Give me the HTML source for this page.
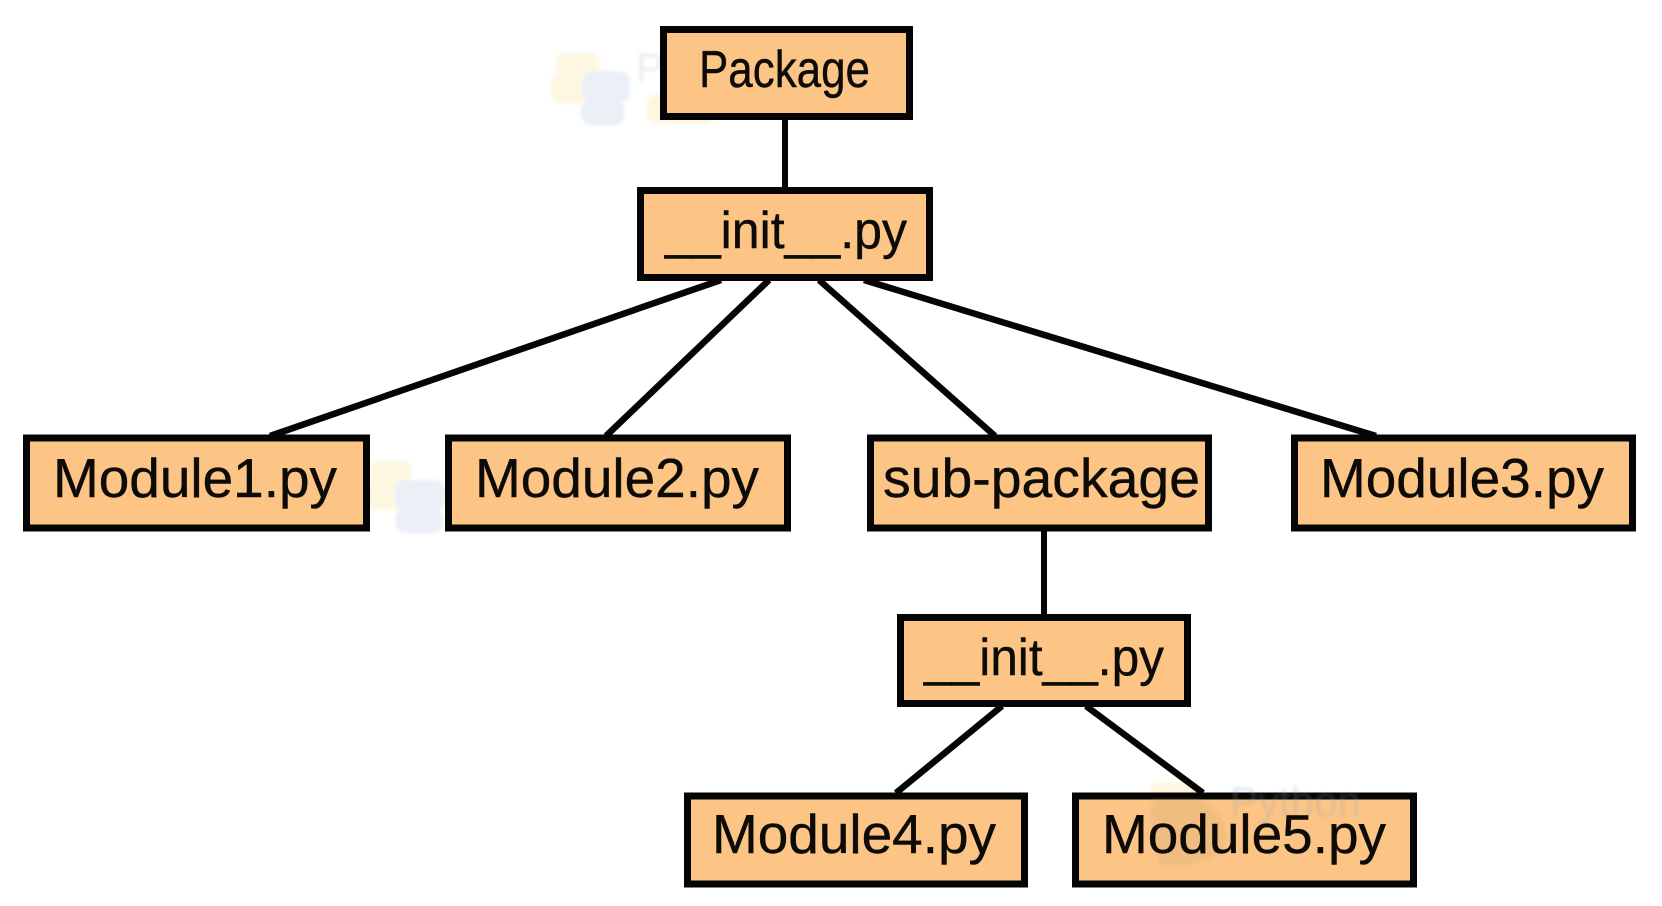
<!DOCTYPE html>
<html>
<head>
<meta charset="utf-8">
<style>
html,body{margin:0;padding:0;background:#fff;width:1662px;height:906px;overflow:hidden}
svg{display:block}
text{font-family:"Liberation Sans",sans-serif;fill:#0d0b08;font-size:55px;stroke:#0d0b08;stroke-width:.4}
.cal{font-size:52px}
.c{stroke:#050505;stroke-width:6.5;fill:none}
.b{fill:#fcc586;stroke:#050505;stroke-width:7}
.wm{font-size:42px;fill:#e9edf2;stroke:none}
</style>
</head>
<body>
<svg width="1662" height="906" viewBox="0 0 1662 906" xmlns="http://www.w3.org/2000/svg">
<defs><filter id="s" x="-10%" y="-10%" width="120%" height="120%"><feGaussianBlur stdDeviation="1.5"/></filter></defs>
<rect width="1662" height="906" fill="#fff"/>
<g filter="url(#s)">
<rect x="556" y="53" width="44" height="24" rx="10" fill="#fdf7e2"/>
<rect x="551" y="72" width="52" height="32" rx="11" fill="#fdf7e2"/>
<rect x="582" y="71" width="48" height="32" rx="11" fill="#eaf0f6"/>
<rect x="581" y="100" width="44" height="25" rx="11" fill="#eaf0f6"/>
<text class="wm" x="636" y="82">Pyt</text>
<rect x="646" y="94" width="70" height="30" rx="12" fill="#fdf7e2"/>
<rect x="370" y="461" width="42" height="22" rx="9" fill="#fdf7e2"/>
<rect x="366" y="480" width="46" height="30" rx="10" fill="#fdf7e2"/>
<rect x="395" y="480" width="50" height="30" rx="10" fill="#eaf0f6"/>
<rect x="395" y="508" width="48" height="25" rx="10" fill="#eaf0f6"/>
<rect x="1150" y="782" width="52" height="14" rx="6" fill="#fdf7e2"/>
</g>
<line class="c" x1="721" y1="280" x2="270" y2="436"/>
<line class="c" x1="769" y1="280" x2="606" y2="436"/>
<line class="c" x1="819" y1="280" x2="995" y2="436"/>
<line class="c" x1="864" y1="280" x2="1376" y2="436"/>
<line class="c" x1="785" y1="118" x2="785" y2="190" style="stroke-width:6"/>
<line class="c" x1="1044" y1="528" x2="1044" y2="616" style="stroke-width:6"/>
<line class="c" x1="1002" y1="706" x2="896" y2="793"/>
<line class="c" x1="1086" y1="706" x2="1203" y2="793"/>
<rect class="b" x="663.5" y="29.5" width="246" height="87"/>
<rect class="b" x="640.5" y="190.5" width="289" height="87"/>
<rect class="b" x="26.5" y="438" width="340" height="90"/>
<rect class="b" x="448.5" y="438" width="339" height="90"/>
<rect class="b" x="870.5" y="438" width="338" height="90"/>
<rect class="b" x="1294.5" y="438" width="338" height="90"/>
<rect class="b" x="900.5" y="617.5" width="287" height="86"/>
<rect class="b" x="687.5" y="796" width="337" height="88"/>
<rect class="b" x="1075.5" y="796" width="338" height="88"/>
<g filter="url(#s)">
<path d="M1152 799 H1198 Q1232 815 1224 850 Q1205 868 1160 866 Q1148 830 1152 799 Z" fill="#c9a070" opacity=".22"/>
<text class="wm" x="1230" y="816" style="fill:#8b9bb0;opacity:.25">Python</text>
</g>
<text class="cal" x="699" y="87" textLength="171" lengthAdjust="spacingAndGlyphs">Package</text>
<text class="cal" x="665" y="248" textLength="242" lengthAdjust="spacingAndGlyphs">__init__.py</text>
<text x="53" y="497" textLength="284" lengthAdjust="spacingAndGlyphs">Module1.py</text>
<text x="475" y="497" textLength="284" lengthAdjust="spacingAndGlyphs">Module2.py</text>
<text x="883" y="497" textLength="317" lengthAdjust="spacingAndGlyphs">sub-package</text>
<text x="1320" y="497" textLength="284" lengthAdjust="spacingAndGlyphs">Module3.py</text>
<text class="cal" x="924" y="675" textLength="240" lengthAdjust="spacingAndGlyphs">__init__.py</text>
<text x="712" y="853" textLength="284" lengthAdjust="spacingAndGlyphs">Module4.py</text>
<text x="1102" y="853" textLength="284" lengthAdjust="spacingAndGlyphs">Module5.py</text>
</svg>
</body>
</html>
